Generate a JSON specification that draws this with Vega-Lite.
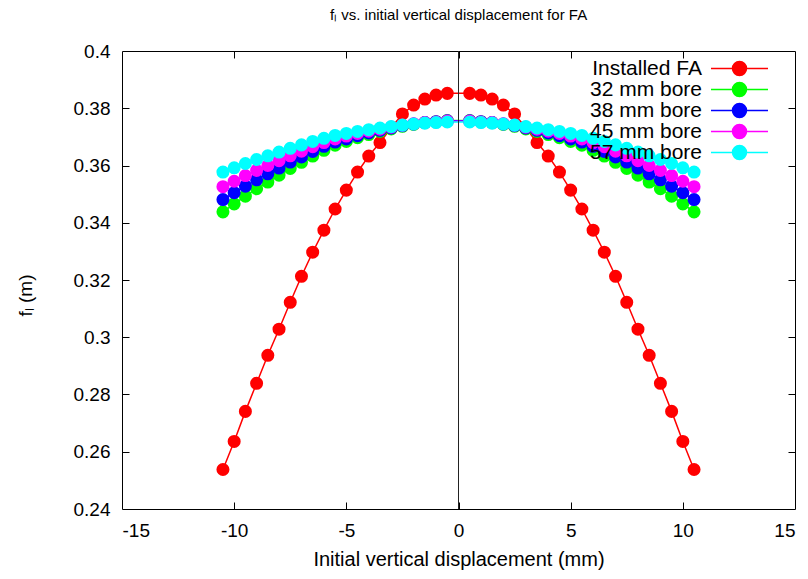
{
  "$schema": "https://vega.github.io/schema/vega-lite/v6.json",
  "width": 673,
  "height": 458,
  "autosize": {"type": "none"},
  "padding": {"left": 122, "top": 51, "right": 13, "bottom": 70},
  "title": {"text": "fₗ vs. initial vertical displacement for FA", "anchor": "middle", "frame": "group", "font": "Liberation Sans", "fontSize": 15, "fontWeight": "normal", "color": "#000", "offset": 19},
  "config": {"view": {"stroke": "#000", "strokeWidth": 1}, "font": "Liberation Sans"},
  "datasets": {
    "curves": [
      {"s": "Installed FA", "x": -10.5, "y": 0.2538}, {"s": "Installed FA", "x": -10, "y": 0.2636}, {"s": "Installed FA", "x": -9.5, "y": 0.2741}, {"s": "Installed FA", "x": -9, "y": 0.2839}, {"s": "Installed FA", "x": -8.5, "y": 0.2937}, {"s": "Installed FA", "x": -8, "y": 0.3028}, {"s": "Installed FA", "x": -7.5, "y": 0.3122}, {"s": "Installed FA", "x": -7, "y": 0.3213}, {"s": "Installed FA", "x": -6.5, "y": 0.3297}, {"s": "Installed FA", "x": -6, "y": 0.3374}, {"s": "Installed FA", "x": -5.5, "y": 0.3448}, {"s": "Installed FA", "x": -5, "y": 0.3514}, {"s": "Installed FA", "x": -4.5, "y": 0.3577}, {"s": "Installed FA", "x": -4, "y": 0.3633}, {"s": "Installed FA", "x": -3.5, "y": 0.368}, {"s": "Installed FA", "x": -3, "y": 0.3732}, {"s": "Installed FA", "x": -2.5, "y": 0.378}, {"s": "Installed FA", "x": -2, "y": 0.3811}, {"s": "Installed FA", "x": -1.5, "y": 0.3832}, {"s": "Installed FA", "x": -1, "y": 0.3846}, {"s": "Installed FA", "x": -0.5, "y": 0.3852},
      {"s": "Installed FA", "x": 0.5, "y": 0.3852}, {"s": "Installed FA", "x": 1, "y": 0.3846}, {"s": "Installed FA", "x": 1.5, "y": 0.3832}, {"s": "Installed FA", "x": 2, "y": 0.3811}, {"s": "Installed FA", "x": 2.5, "y": 0.378}, {"s": "Installed FA", "x": 3, "y": 0.3732}, {"s": "Installed FA", "x": 3.5, "y": 0.368}, {"s": "Installed FA", "x": 4, "y": 0.3633}, {"s": "Installed FA", "x": 4.5, "y": 0.3577}, {"s": "Installed FA", "x": 5, "y": 0.3514}, {"s": "Installed FA", "x": 5.5, "y": 0.3448}, {"s": "Installed FA", "x": 6, "y": 0.3374}, {"s": "Installed FA", "x": 6.5, "y": 0.3297}, {"s": "Installed FA", "x": 7, "y": 0.3213}, {"s": "Installed FA", "x": 7.5, "y": 0.3122}, {"s": "Installed FA", "x": 8, "y": 0.3028}, {"s": "Installed FA", "x": 8.5, "y": 0.2937}, {"s": "Installed FA", "x": 9, "y": 0.2839}, {"s": "Installed FA", "x": 9.5, "y": 0.2741}, {"s": "Installed FA", "x": 10, "y": 0.2636}, {"s": "Installed FA", "x": 10.5, "y": 0.2538},

      {"s": "32 mm bore", "x": -10.5, "y": 0.3438}, {"s": "32 mm bore", "x": -10, "y": 0.3466}, {"s": "32 mm bore", "x": -9.5, "y": 0.3493}, {"s": "32 mm bore", "x": -9, "y": 0.3519}, {"s": "32 mm bore", "x": -8.5, "y": 0.3542}, {"s": "32 mm bore", "x": -8, "y": 0.3566}, {"s": "32 mm bore", "x": -7.5, "y": 0.359}, {"s": "32 mm bore", "x": -7, "y": 0.3611}, {"s": "32 mm bore", "x": -6.5, "y": 0.3633}, {"s": "32 mm bore", "x": -6, "y": 0.3653}, {"s": "32 mm bore", "x": -5.5, "y": 0.3671}, {"s": "32 mm bore", "x": -5, "y": 0.3684}, {"s": "32 mm bore", "x": -4.5, "y": 0.3697}, {"s": "32 mm bore", "x": -4, "y": 0.3708}, {"s": "32 mm bore", "x": -3.5, "y": 0.3719}, {"s": "32 mm bore", "x": -3, "y": 0.3728}, {"s": "32 mm bore", "x": -2.5, "y": 0.3737}, {"s": "32 mm bore", "x": -2, "y": 0.3744}, {"s": "32 mm bore", "x": -1.5, "y": 0.375}, {"s": "32 mm bore", "x": -1, "y": 0.3753}, {"s": "32 mm bore", "x": -0.5, "y": 0.3757},
      {"s": "32 mm bore", "x": 0.5, "y": 0.3757}, {"s": "32 mm bore", "x": 1, "y": 0.3753}, {"s": "32 mm bore", "x": 1.5, "y": 0.375}, {"s": "32 mm bore", "x": 2, "y": 0.3744}, {"s": "32 mm bore", "x": 2.5, "y": 0.3737}, {"s": "32 mm bore", "x": 3, "y": 0.3728}, {"s": "32 mm bore", "x": 3.5, "y": 0.3719}, {"s": "32 mm bore", "x": 4, "y": 0.3708}, {"s": "32 mm bore", "x": 4.5, "y": 0.3697}, {"s": "32 mm bore", "x": 5, "y": 0.3684}, {"s": "32 mm bore", "x": 5.5, "y": 0.3671}, {"s": "32 mm bore", "x": 6, "y": 0.3653}, {"s": "32 mm bore", "x": 6.5, "y": 0.3633}, {"s": "32 mm bore", "x": 7, "y": 0.3611}, {"s": "32 mm bore", "x": 7.5, "y": 0.359}, {"s": "32 mm bore", "x": 8, "y": 0.3566}, {"s": "32 mm bore", "x": 8.5, "y": 0.3542}, {"s": "32 mm bore", "x": 9, "y": 0.3519}, {"s": "32 mm bore", "x": 9.5, "y": 0.3493}, {"s": "32 mm bore", "x": 10, "y": 0.3466}, {"s": "32 mm bore", "x": 10.5, "y": 0.3438},

      {"s": "38 mm bore", "x": -10.5, "y": 0.3481}, {"s": "38 mm bore", "x": -10, "y": 0.3505}, {"s": "38 mm bore", "x": -9.5, "y": 0.3528}, {"s": "38 mm bore", "x": -9, "y": 0.355}, {"s": "38 mm bore", "x": -8.5, "y": 0.3571}, {"s": "38 mm bore", "x": -8, "y": 0.3591}, {"s": "38 mm bore", "x": -7.5, "y": 0.3612}, {"s": "38 mm bore", "x": -7, "y": 0.363}, {"s": "38 mm bore", "x": -6.5, "y": 0.3649}, {"s": "38 mm bore", "x": -6, "y": 0.3667}, {"s": "38 mm bore", "x": -5.5, "y": 0.3682}, {"s": "38 mm bore", "x": -5, "y": 0.3693}, {"s": "38 mm bore", "x": -4.5, "y": 0.3704}, {"s": "38 mm bore", "x": -4, "y": 0.3714}, {"s": "38 mm bore", "x": -3.5, "y": 0.3723}, {"s": "38 mm bore", "x": -3, "y": 0.3731}, {"s": "38 mm bore", "x": -2.5, "y": 0.3739}, {"s": "38 mm bore", "x": -2, "y": 0.3745}, {"s": "38 mm bore", "x": -1.5, "y": 0.375}, {"s": "38 mm bore", "x": -1, "y": 0.3753}, {"s": "38 mm bore", "x": -0.5, "y": 0.3756},
      {"s": "38 mm bore", "x": 0.5, "y": 0.3756}, {"s": "38 mm bore", "x": 1, "y": 0.3753}, {"s": "38 mm bore", "x": 1.5, "y": 0.375}, {"s": "38 mm bore", "x": 2, "y": 0.3745}, {"s": "38 mm bore", "x": 2.5, "y": 0.3739}, {"s": "38 mm bore", "x": 3, "y": 0.3731}, {"s": "38 mm bore", "x": 3.5, "y": 0.3723}, {"s": "38 mm bore", "x": 4, "y": 0.3714}, {"s": "38 mm bore", "x": 4.5, "y": 0.3704}, {"s": "38 mm bore", "x": 5, "y": 0.3693}, {"s": "38 mm bore", "x": 5.5, "y": 0.3682}, {"s": "38 mm bore", "x": 6, "y": 0.3667}, {"s": "38 mm bore", "x": 6.5, "y": 0.3649}, {"s": "38 mm bore", "x": 7, "y": 0.363}, {"s": "38 mm bore", "x": 7.5, "y": 0.3612}, {"s": "38 mm bore", "x": 8, "y": 0.3591}, {"s": "38 mm bore", "x": 8.5, "y": 0.3571}, {"s": "38 mm bore", "x": 9, "y": 0.355}, {"s": "38 mm bore", "x": 9.5, "y": 0.3528}, {"s": "38 mm bore", "x": 10, "y": 0.3505}, {"s": "38 mm bore", "x": 10.5, "y": 0.3481},

      {"s": "45 mm bore", "x": -10.5, "y": 0.3526}, {"s": "45 mm bore", "x": -10, "y": 0.3545}, {"s": "45 mm bore", "x": -9.5, "y": 0.3565}, {"s": "45 mm bore", "x": -9, "y": 0.3583}, {"s": "45 mm bore", "x": -8.5, "y": 0.36}, {"s": "45 mm bore", "x": -8, "y": 0.3617}, {"s": "45 mm bore", "x": -7.5, "y": 0.3634}, {"s": "45 mm bore", "x": -7, "y": 0.365}, {"s": "45 mm bore", "x": -6.5, "y": 0.3666}, {"s": "45 mm bore", "x": -6, "y": 0.368}, {"s": "45 mm bore", "x": -5.5, "y": 0.3693}, {"s": "45 mm bore", "x": -5, "y": 0.3703}, {"s": "45 mm bore", "x": -4.5, "y": 0.3712}, {"s": "45 mm bore", "x": -4, "y": 0.372}, {"s": "45 mm bore", "x": -3.5, "y": 0.3727}, {"s": "45 mm bore", "x": -3, "y": 0.3734}, {"s": "45 mm bore", "x": -2.5, "y": 0.3741}, {"s": "45 mm bore", "x": -2, "y": 0.3746}, {"s": "45 mm bore", "x": -1.5, "y": 0.375}, {"s": "45 mm bore", "x": -1, "y": 0.3752}, {"s": "45 mm bore", "x": -0.5, "y": 0.3755},
      {"s": "45 mm bore", "x": 0.5, "y": 0.3755}, {"s": "45 mm bore", "x": 1, "y": 0.3752}, {"s": "45 mm bore", "x": 1.5, "y": 0.375}, {"s": "45 mm bore", "x": 2, "y": 0.3746}, {"s": "45 mm bore", "x": 2.5, "y": 0.3741}, {"s": "45 mm bore", "x": 3, "y": 0.3734}, {"s": "45 mm bore", "x": 3.5, "y": 0.3727}, {"s": "45 mm bore", "x": 4, "y": 0.372}, {"s": "45 mm bore", "x": 4.5, "y": 0.3712}, {"s": "45 mm bore", "x": 5, "y": 0.3703}, {"s": "45 mm bore", "x": 5.5, "y": 0.3693}, {"s": "45 mm bore", "x": 6, "y": 0.368}, {"s": "45 mm bore", "x": 6.5, "y": 0.3666}, {"s": "45 mm bore", "x": 7, "y": 0.365}, {"s": "45 mm bore", "x": 7.5, "y": 0.3634}, {"s": "45 mm bore", "x": 8, "y": 0.3617}, {"s": "45 mm bore", "x": 8.5, "y": 0.36}, {"s": "45 mm bore", "x": 9, "y": 0.3583}, {"s": "45 mm bore", "x": 9.5, "y": 0.3565}, {"s": "45 mm bore", "x": 10, "y": 0.3545}, {"s": "45 mm bore", "x": 10.5, "y": 0.3526},

      {"s": "57 mm bore", "x": -10.5, "y": 0.3577}, {"s": "57 mm bore", "x": -10, "y": 0.3592}, {"s": "57 mm bore", "x": -9.5, "y": 0.3607}, {"s": "57 mm bore", "x": -9, "y": 0.3621}, {"s": "57 mm bore", "x": -8.5, "y": 0.3634}, {"s": "57 mm bore", "x": -8, "y": 0.3647}, {"s": "57 mm bore", "x": -7.5, "y": 0.366}, {"s": "57 mm bore", "x": -7, "y": 0.3672}, {"s": "57 mm bore", "x": -6.5, "y": 0.3684}, {"s": "57 mm bore", "x": -6, "y": 0.3695}, {"s": "57 mm bore", "x": -5.5, "y": 0.3705}, {"s": "57 mm bore", "x": -5, "y": 0.3712}, {"s": "57 mm bore", "x": -4.5, "y": 0.3719}, {"s": "57 mm bore", "x": -4, "y": 0.3725}, {"s": "57 mm bore", "x": -3.5, "y": 0.3731}, {"s": "57 mm bore", "x": -3, "y": 0.3736}, {"s": "57 mm bore", "x": -2.5, "y": 0.3741}, {"s": "57 mm bore", "x": -2, "y": 0.3745}, {"s": "57 mm bore", "x": -1.5, "y": 0.3748}, {"s": "57 mm bore", "x": -1, "y": 0.375}, {"s": "57 mm bore", "x": -0.5, "y": 0.3752},
      {"s": "57 mm bore", "x": 0.5, "y": 0.3752}, {"s": "57 mm bore", "x": 1, "y": 0.375}, {"s": "57 mm bore", "x": 1.5, "y": 0.3748}, {"s": "57 mm bore", "x": 2, "y": 0.3745}, {"s": "57 mm bore", "x": 2.5, "y": 0.3741}, {"s": "57 mm bore", "x": 3, "y": 0.3736}, {"s": "57 mm bore", "x": 3.5, "y": 0.3731}, {"s": "57 mm bore", "x": 4, "y": 0.3725}, {"s": "57 mm bore", "x": 4.5, "y": 0.3719}, {"s": "57 mm bore", "x": 5, "y": 0.3712}, {"s": "57 mm bore", "x": 5.5, "y": 0.3705}, {"s": "57 mm bore", "x": 6, "y": 0.3695}, {"s": "57 mm bore", "x": 6.5, "y": 0.3684}, {"s": "57 mm bore", "x": 7, "y": 0.3672}, {"s": "57 mm bore", "x": 7.5, "y": 0.366}, {"s": "57 mm bore", "x": 8, "y": 0.3647}, {"s": "57 mm bore", "x": 8.5, "y": 0.3634}, {"s": "57 mm bore", "x": 9, "y": 0.3621}, {"s": "57 mm bore", "x": 9.5, "y": 0.3607}, {"s": "57 mm bore", "x": 10, "y": 0.3592}, {"s": "57 mm bore", "x": 10.5, "y": 0.3577}
    ]
  },
  "layer": [
    {
      "data": {"name": "curves"},
      "mark": {"type": "line", "strokeWidth": 1.5},
      "encoding": {
        "x": {"field": "x", "type": "quantitative", "scale": {"domain": [-15, 15], "nice": false, "zero": false},
          "axis": {"orient": "bottom", "values": [-15, -10, -5, 0, 5, 10, 15], "grid": false, "ticks": false, "domain": false, "labelFont": "Liberation Sans", "labelFontSize": 19, "labelColor": "#000", "labelPadding": 12, "labelExpr": "replace(datum.label, '−', '-')", "title": "Initial vertical displacement (mm)", "titleFont": "Liberation Sans", "titleFontSize": 20, "titleFontWeight": "normal", "titleColor": "#000", "titlePadding": 9}},
        "y": {"field": "y", "type": "quantitative", "scale": {"domain": [0.24, 0.4], "nice": false, "zero": false},
          "axis": {"orient": "left", "values": [0.24, 0.26, 0.28, 0.3, 0.32, 0.34, 0.36, 0.38, 0.4], "format": "~g", "grid": false, "ticks": false, "domain": false, "labelFont": "Liberation Sans", "labelFontSize": 19, "labelColor": "#000", "labelPadding": 12, "title": "fₗ (m)", "titleFont": "Liberation Sans", "titleFontSize": 19, "titleFontWeight": "normal", "titleColor": "#000", "titleX": -87, "titleY": 244}},
        "color": {"field": "s", "type": "nominal",
          "scale": {"domain": ["Installed FA", "32 mm bore", "38 mm bore", "45 mm bore", "57 mm bore"], "range": ["#ff0000", "#00ff00", "#0000ff", "#ff00ff", "#00ffff"]},
          "legend": {"orient": "none", "legendX": 607, "legendY": 7, "title": null, "padding": 0,
            "symbolType": "M-4,0L4,0M0.98,0A0.98,0.98,0,1,1,-0.98,0A0.98,0.98,0,1,1,0.98,0Z",
            "symbolSize": 203, "symbolStrokeWidth": 1.5, "labelAlign": "right", "labelOffset": -48,
            "labelFont": "Liberation Sans", "labelFontSize": 21, "labelColor": "#000", "rowPadding": -1.5,
            "encode": {"symbols": {"update": {"fill": {"scale": "color", "field": "value"}, "stroke": {"scale": "color", "field": "value"}, "opacity": {"value": 1}, "fillOpacity": {"value": 1}}}}}}
      }
    },
    {
      "data": {"name": "curves"},
      "mark": {"type": "point", "filled": true, "size": 170, "opacity": 1},
      "encoding": {
        "x": {"field": "x", "type": "quantitative", "scale": {"domain": [-15, 15], "nice": false, "zero": false},
          "axis": {"orient": "top", "offset": -458, "values": [-10, -5, 0, 5, 10], "grid": false, "ticks": true, "tickSize": 7, "tickColor": "#000", "domain": false, "labels": false, "title": null}},
        "y": {"field": "y", "type": "quantitative", "scale": {"domain": [0.24, 0.4], "nice": false, "zero": false},
          "axis": {"orient": "right", "offset": -673, "values": [0.26, 0.28, 0.3, 0.32, 0.34, 0.36, 0.38], "grid": false, "ticks": true, "tickSize": 7, "tickColor": "#000", "domain": false, "labels": false, "title": null}},
        "color": {"field": "s", "type": "nominal", "legend": null}
      }
    },
    {
      "data": {"values": [{"x0": 0}]},
      "mark": {"type": "rule", "color": "#222", "strokeWidth": 1},
      "encoding": {"x": {"field": "x0", "type": "quantitative",
        "axis": {"orient": "bottom", "offset": -458, "values": [-10, -5, 0, 5, 10], "grid": false, "ticks": true, "tickSize": 7, "tickColor": "#000", "domain": false, "labels": false, "title": null}}}
    },
    {
      "data": {"values": [{"y0": 0.3}]},
      "mark": {"type": "rule", "strokeOpacity": 0},
      "encoding": {"y": {"field": "y0", "type": "quantitative",
        "axis": {"orient": "left", "offset": -673, "values": [0.26, 0.28, 0.3, 0.32, 0.34, 0.36, 0.38], "grid": false, "ticks": true, "tickSize": 7, "tickColor": "#000", "domain": false, "labels": false, "title": null}}}
    }
  ],
  "resolve": {"axis": {"x": "independent", "y": "independent"}}
}
